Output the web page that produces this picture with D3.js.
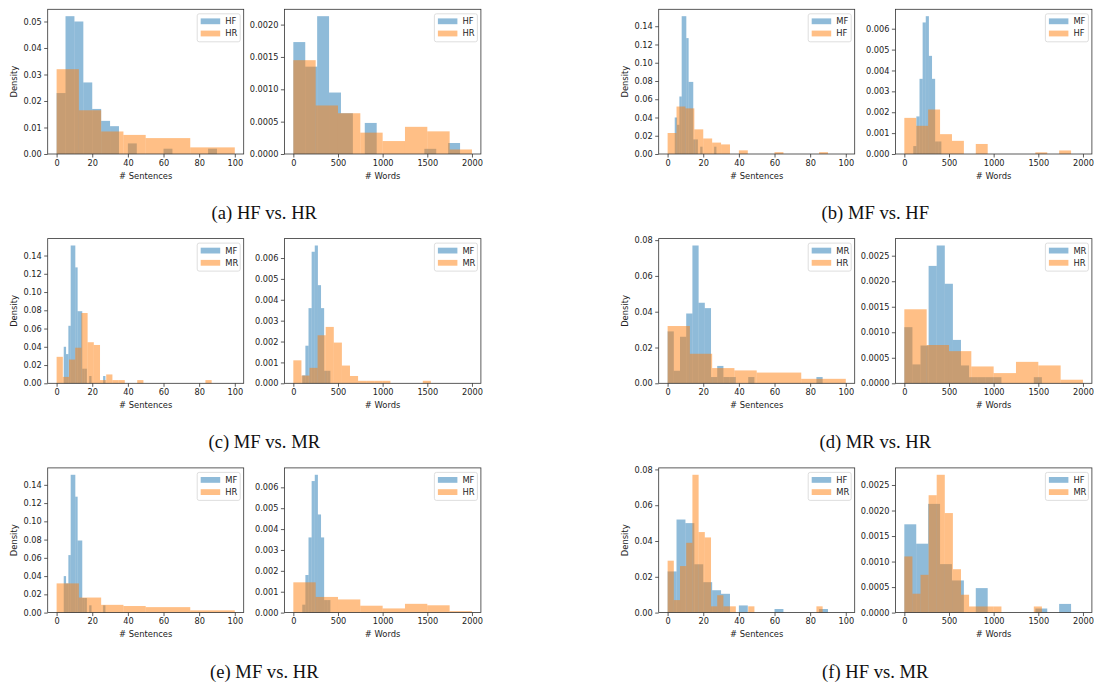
<!DOCTYPE html>
<html>
<head>
<meta charset="utf-8">
<script src="https://cdn.jsdelivr.net/npm/d3@7"></script>
<style>
  html, body { margin: 0; padding: 0; background: #fff; }
  svg { display: block; }
  .tick text { font-family: "DejaVu Sans", sans-serif; font-size: 8.2px; fill: #222; }
  .lbl { font-family: "DejaVu Sans", sans-serif; font-size: 8.4px; fill: #222; }
  .cap { font-family: "Liberation Serif", "Times New Roman", serif; font-size: 18.6px; fill: #111; }
</style>
</head>
<body>
<svg id="chart" width="1094" height="684"></svg>
<script>
// ---------------- DATA (density histograms) ----------------
// Human-Fake (HF)
const hfSentEdges = [0,5,10,15,20,25,30,35,40,45,50,55,60,65,70,75,80,85,90];
const hfSentDensity = [0.023,0.052,0.050,0.027,0.017,0.0125,0.0105,0,0.004,0,0,0,0.002,0,0,0,0,0.002];
const hfWordEdges = [0,133.3,266.7,400,533.3,666.7,800,933.3,1066.7,1200,1333.3,1466.7,1600,1733.3,1866.7];
const hfWordDensity = [0.00173,0.00135,0.00213,0.00095,0.00063,0,0.00048,0,0,0,0,0.00008,0,0.00017];
// Human-Real (HR)
const hrSentEdges = [0,12.5,25,37.5,50,75,100];
const hrSentDensity = [0.032,0.0165,0.0085,0.0072,0.006,0.0025];
const hrWordEdges = [0,250,500,750,1000,1250,1500,1750,2000];
const hrWordDensity = [0.00145,0.00075,0.00063,0.00033,0.0002,0.00042,0.00035,0.00007];
// Machine-Fake (MF)
const mfSentEdges = [4,5.3,6.6,7.9,9.2,10.5,11.8,13.1,14.4,15.7,17.0,18.3,19.6,20.9,22.2,23.5,24.8,26.1,27.4];
const mfSentDensity = [0.040,0.032,0.063,0.151,0.151,0.127,0.079,0.079,0.016,0.016,0,0.008,0,0,0,0,0,0.008];
const mfWordEdges = [100,135,170,205,240,275,310,345,380,415];
const mfWordDensity = [0.00038,0.0018,0.0036,0.0063,0.0066,0.0047,0.0036,0.0006,0.0006];
// Machine-Real (MR)
const mrSentEdges = [0,3.48,6.96,10.44,13.92,17.4,20.88,24.36,27.84,31.32,34.8,38.28,41.76,45.24,48.72,52.2,55.68,59.16,62.64,66.12,69.6,73.08,76.56,80.04,83.52,87];
const mrSentDensity = [0.029,0.007,0.026,0.039,0.077,0.045,0.042,0.0035,0.0097,0.0035,0.0035,0,0,0.0035,0,0,0,0,0,0,0,0,0,0,0.0035];
const mrWordEdges = [0,90.6,181.2,271.8,362.4,453,543.6,634.2,724.8,815.4,906,996.6,1087.2,1177.8,1268.4,1359,1449.6,1540.2];
const mrWordDensity = [0.0011,0.00037,0.00074,0.0023,0.0027,0.00195,0.00085,0.00035,0.00012,0.00012,0.00012,0.00012,0,0,0,0,0.00012];

// Tick labels
const sentTicks = [0,20,40,60,80,100];
const wordTicks = [0,500,1000,1500,2000];

// Sub-figures: caption and the two groups compared (first = blue, second = orange)
const captions = ["(a) HF vs. HR","(b) MF vs. HF","(c) MF vs. MR","(d) MR vs. HR","(e) MF vs. HR","(f) HF vs. MR"];
const pairs = [["HF","HR"],["MF","HF"],["MF","MR"],["MR","HR"],["MF","HR"],["HF","MR"]];
const sentYTicks = [[0,0.01,0.02,0.03,0.04,0.05],[0,0.02,0.04,0.06,0.08,0.10,0.12,0.14],[0,0.02,0.04,0.06,0.08,0.10,0.12,0.14],[0,0.02,0.04,0.06,0.08],[0,0.02,0.04,0.06,0.08,0.10,0.12,0.14],[0,0.02,0.04,0.06,0.08]];
const wordYTicks = [[0,0.0005,0.001,0.0015,0.002],[0,0.001,0.002,0.003,0.004,0.005,0.006],[0,0.001,0.002,0.003,0.004,0.005,0.006],[0,0.0005,0.001,0.0015,0.002,0.0025],[0,0.001,0.002,0.003,0.004,0.005,0.006],[0,0.0005,0.001,0.0015,0.002,0.0025]];
const sentYFmt = [".2f",".2f",".2f",".2f",".2f",".2f"];
const wordYFmt = [".4f",".3f",".3f",".4f",".3f",".4f"];

// ---------------- DRAWING ----------------
const series = {
  HF: {sent: [hfSentEdges, hfSentDensity], word: [hfWordEdges, hfWordDensity]},
  HR: {sent: [hrSentEdges, hrSentDensity], word: [hrWordEdges, hrWordDensity]},
  MF: {sent: [mfSentEdges, mfSentDensity], word: [mfWordEdges, mfWordDensity]},
  MR: {sent: [mrSentEdges, mrSentDensity], word: [mrWordEdges, mrWordDensity]}
};
const colors = ["#1f77b4", "#ff7f0e"];

const svg = d3.select("#chart");

const rowTop = [9.3, 238.6, 467.9];
const axH = 144.7;
const colOffset = [0, 611];
const panelX = [[47.7, 243.7], [284.4, 480.9]];

function bins(edges, vals) {
  return vals.map((v, i) => ({x0: edges[i], x1: edges[i + 1], v}));
}

function drawPanel(g, x0, x1, top, bottom, kind, pair, yTicks, yFmt, showYLabel) {
  const isSent = kind === "sent";
  const x = d3.scaleLinear().domain(isSent ? [-5, 105] : [-100, 2100]).range([x0, x1]);
  const allVals = pair.map(p => series[p][kind][1]).flat();
  const y = d3.scaleLinear().domain([0, d3.max(allVals) * 1.05]).range([bottom, top]);

  // bars
  pair.forEach((p, si) => {
    const [edges, vals] = series[p][kind];
    g.append("g").selectAll("rect")
      .data(bins(edges, vals).filter(d => d.v > 0))
      .join("rect")
      .attr("x", d => x(d.x0))
      .attr("width", d => x(d.x1) - x(d.x0))
      .attr("y", d => y(d.v))
      .attr("height", d => y(0) - y(d.v))
      .attr("fill", colors[si])
      .attr("fill-opacity", 0.5);
  });

  // axes
  const xa = g.append("g").attr("transform", `translate(0,${bottom})`)
    .call(d3.axisBottom(x).tickValues(isSent ? sentTicks : wordTicks).tickFormat(d3.format("d")).tickSize(3.5).tickPadding(2.5));
  const ya = g.append("g").attr("transform", `translate(${x0},0)`)
    .call(d3.axisLeft(y).tickValues(yTicks).tickFormat(d3.format(yFmt)).tickSize(3.5).tickPadding(2.5));
  [xa, ya].forEach(a => {
    a.select(".domain").remove();
    a.selectAll(".tick line").attr("stroke", "#333").attr("stroke-width", 0.8);
  });

  // frame
  g.append("rect").attr("x", x0).attr("y", top).attr("width", x1 - x0).attr("height", bottom - top)
    .attr("fill", "none").attr("stroke", "#333").attr("stroke-width", 0.8);

  // labels
  g.append("text").attr("class", "lbl").attr("x", (x0 + x1) / 2).attr("y", bottom + 24.5)
    .attr("text-anchor", "middle").text(isSent ? "# Sentences" : "# Words");
  if (showYLabel) {
    g.append("text").attr("class", "lbl")
      .attr("transform", `translate(${x0 - 31},${(top + bottom) / 2}) rotate(-90)`)
      .attr("text-anchor", "middle").text("Density");
  }

  // legend
  const lw = 43, lh = 28;
  const lx = x1 - 3.5 - lw, ly = top + 4.5;
  const leg = g.append("g");
  leg.append("rect").attr("x", lx).attr("y", ly).attr("width", lw).attr("height", lh).attr("rx", 2)
    .attr("fill", "#fff").attr("fill-opacity", 0.8).attr("stroke", "#d6d6d6").attr("stroke-width", 0.8);
  pair.forEach((p, si) => {
    const cy = ly + 7.5 + si * 12.2;
    leg.append("rect").attr("x", lx + 3.5).attr("y", cy - 2.9).attr("width", 19.5).attr("height", 5.8)
      .attr("fill", colors[si]).attr("fill-opacity", 0.5);
    leg.append("text").attr("class", "lbl").attr("x", lx + 28).attr("y", cy).attr("dy", "0.35em").text(p);
  });
}

captions.forEach((cap, k) => {
  const row = Math.floor(k / 2), col = k % 2;
  const off = colOffset[col];
  const top = rowTop[row], bottom = top + axH;
  const g = svg.append("g");
  drawPanel(g, panelX[0][0] + off, panelX[0][1] + off, top, bottom, "sent", pairs[k], sentYTicks[k], sentYFmt[k], true);
  drawPanel(g, panelX[1][0] + off, panelX[1][1] + off, top, bottom, "word", pairs[k], wordYTicks[k], wordYFmt[k], false);
  g.append("text").attr("class", "cap")
    .attr("x", (panelX[0][0] + panelX[1][1]) / 2 + off)
    .attr("y", bottom + 65)
    .attr("text-anchor", "middle").text(cap);
});
</script>
</body>
</html>
